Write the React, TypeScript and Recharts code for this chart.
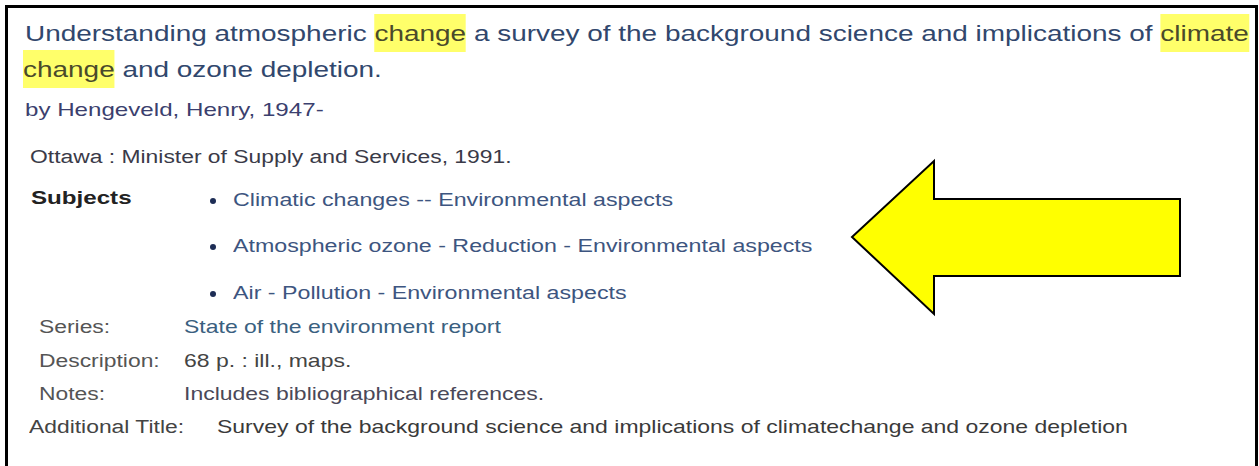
import React from 'react';
import { ComposedChart, Area, Line, XAxis, YAxis } from 'recharts';

const W = 1259;
const H = 466;

// arrow outline, traced in page pixels (y grows downward); starts mid right edge so the join is seamless
const arrowX = [1180, 1180, 934, 934, 852, 934, 934, 1180, 1180];
const arrowY = [238, 276, 276, 314, 237, 161, 199, 199, 238];
// arrow fill as a range area: x, lower edge, upper edge
const fillX = [852, 934, 934, 1180];
const fillLow = [237, 161, 199, 199];
const fillHigh = [237, 314, 276, 276];

const titleLine1 = ['Understanding atmospheric ', 'change', ' a survey of the background science and implications of ', 'climate'];
const titleLine2 = ['change', ' and ozone depletion.'];
const byLine = 'by Hengeveld, Henry, 1947-';
const imprint = 'Ottawa : Minister of Supply and Services, 1991.';
const subjects = [
  'Climatic changes -- Environmental aspects',
  'Atmospheric ozone - Reduction - Environmental aspects',
  'Air - Pollution - Environmental aspects',
];
const fieldLabels = ['Series:', 'Description:', 'Notes:', 'Additional Title:'];
const fieldValues = [
  'State of the environment report',
  '68 p. : ill., maps.',
  'Includes bibliographical references.',
  'Survey of the background science and implications of climatechange and ozone depletion',
];

const outline = arrowX.map((x, i) => ({ x, y: arrowY[i] }));
const fill = fillX.map((x, i) => ({ x, band: [fillLow[i], fillHigh[i]] }));

const FONT = '"Liberation Sans", Arial, sans-serif';
const SX = 1.27;
const HL = '#ffff6a';

interface TxtProps {
  x: number;
  base: number;
  size: number;
  color: string;
  bold?: boolean;
  children: React.ReactNode;
}

function Txt({ x, base, size, color, bold, children }: TxtProps) {
  return (
    <div
      style={{
        position: 'absolute',
        left: x,
        top: base - 0.8465 * size,
        fontSize: size,
        lineHeight: `${size}px`,
        color,
        fontWeight: bold ? 'bold' : 'normal',
        whiteSpace: 'nowrap',
        transform: `scaleX(${SX})`,
        transformOrigin: 'left center',
        fontFamily: FONT,
      }}
    >
      {children}
    </div>
  );
}

const mark = (s: string) => (
  <span style={{ background: HL, padding: '7px 0 6px', color: '#4a4a2a' }}>{s}</span>
);

const labelColors = ['#555', '#555', '#555', '#444'];
const valueColors = ['#3a6080', '#444', '#4a4858', '#3a3a3a'];
const valueX = [184, 184, 184, 217];
const labelX = [39, 39, 39, 29];
const fieldBase = [333, 367, 400, 433];
const subjectBase = [206, 252, 299];

export default function App() {
  return (
    <div style={{ position: 'absolute', left: 0, top: 0, width: W, height: H, background: '#fff', overflow: 'hidden' }}>
      <div
        style={{
          position: 'absolute',
          left: 5,
          top: 5,
          width: 1247,
          height: 480,
          borderLeft: '3px solid #000',
          borderTop: '3px solid #000',
          borderRight: '3px solid #000',
        }}
      />
      <div style={{ position: 'absolute', left: 0, top: 0 }}>
        <ComposedChart width={W} height={H} margin={{ top: 0, right: 0, bottom: 0, left: 0 }}>
          <XAxis dataKey="x" type="number" domain={[0, W]} hide allowDataOverflow />
          <YAxis type="number" domain={[0, H]} reversed hide allowDataOverflow />
          <Area
            data={fill}
            dataKey="band"
            type="linear"
            fill="#ffff00"
            fillOpacity={1}
            stroke="none"
            dot={false}
            activeDot={false}
            isAnimationActive={false}
          />
          <Line
            data={outline}
            dataKey="y"
            type="linear"
            stroke="#000"
            strokeWidth={2}
            strokeLinejoin="miter"
            dot={false}
            activeDot={false}
            isAnimationActive={false}
          />
        </ComposedChart>
      </div>

      <Txt x={25} base={42} size={22} color="#31476d">
        {titleLine1[0]}
        {mark(titleLine1[1])}
        {titleLine1[2]}
        {mark(titleLine1[3])}
      </Txt>
      <Txt x={23} base={78} size={22} color="#31476d">
        {mark(titleLine2[0])}
        {titleLine2[1]}
      </Txt>
      <Txt x={25} base={116} size={19} color="#3b3f6e">
        {byLine}
      </Txt>
      <Txt x={30} base={163} size={18} color="#3a3a48">
        {imprint}
      </Txt>
      <Txt x={31} base={204} size={19} color="#222" bold>
        Subjects
      </Txt>
      {subjects.map((s, i) => (
        <React.Fragment key={s}>
          <div
            style={{
              position: 'absolute',
              left: 210,
              top: subjectBase[i] - 8,
              width: 6,
              height: 6,
              borderRadius: '50%',
              background: '#1d2d55',
            }}
          />
          <Txt x={233} base={subjectBase[i]} size={18.3} color="#3d5580">
            {s}
          </Txt>
        </React.Fragment>
      ))}
      {fieldLabels.map((l, i) => (
        <React.Fragment key={l}>
          <Txt x={labelX[i]} base={fieldBase[i]} size={18} color={labelColors[i]}>
            {l}
          </Txt>
          <Txt x={valueX[i]} base={fieldBase[i]} size={18.1} color={valueColors[i]}>
            {fieldValues[i]}
          </Txt>
        </React.Fragment>
      ))}
    </div>
  );
}
